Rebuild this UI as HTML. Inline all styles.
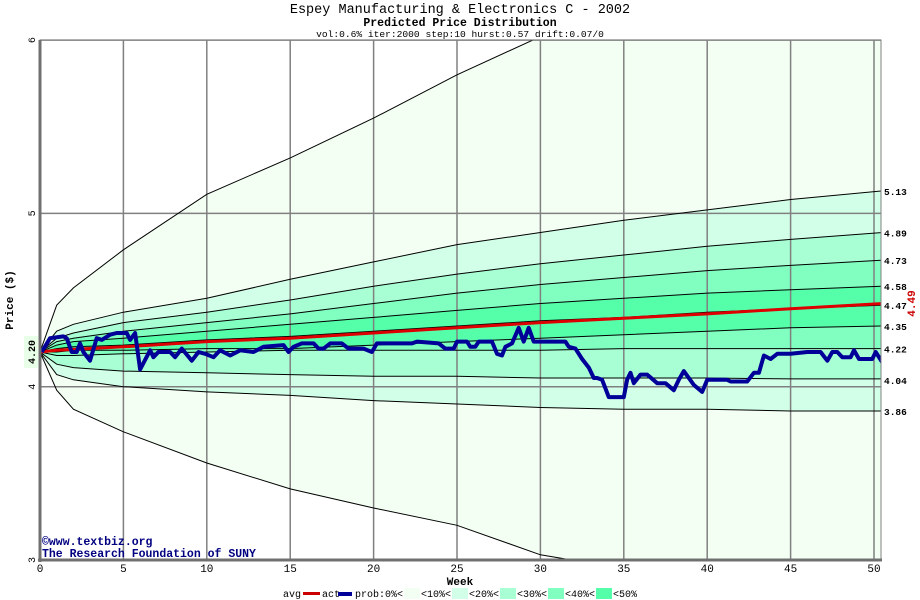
<!DOCTYPE html>
<html><head><meta charset="utf-8"><style>
html,body{margin:0;padding:0;background:#fff;}
svg{display:block;font-family:"Liberation Mono",monospace;}
</style></head><body>
<svg id="chart" width="920" height="600" viewBox="0 0 920 600">
<text x="460" y="13" text-anchor="middle" font-size="13.5">Espey Manufacturing &amp; Electronics C - 2002</text>
<text x="460" y="26" text-anchor="middle" font-size="11.5" font-weight="bold">Predicted Price Distribution</text>
<text x="460" y="37" text-anchor="middle" font-size="9.6">vol:0.6% iter:2000 step:10 hurst:0.57 drift:0.07/0</text>
<g id="bands"></g>
<g id="grid"></g>
<g id="curves"></g>
<g id="series"></g>
<g id="axes"></g>
<text x="42" y="545" font-size="11.5" font-weight="bold" fill="#000080">©www.textbiz.org</text>
<text x="42" y="557" font-size="11.5" font-weight="bold" fill="#000080">The Research Foundation of SUNY</text>
<text x="460" y="585" text-anchor="middle" font-size="11" font-weight="bold">Week</text>
<text transform="translate(13,300) rotate(-90)" text-anchor="middle" font-size="11" font-weight="bold">Price ($)</text>
<g id="legend" font-size="10">
<text x="283" y="597">avg</text>
<rect x="303" y="592" width="17" height="3" fill="#cc0000"/>
<text x="322" y="597">act</text>
<rect x="338" y="592" width="14" height="4" fill="#000099"/>
<text x="355" y="597">prob:0%&lt;</text>
<rect x="404" y="588" width="16" height="11" fill="#f3fff3"/>
<text x="421" y="597">&lt;10%&lt;</text>
<rect x="452" y="588" width="16" height="11" fill="#d2ffe8"/>
<text x="469" y="597">&lt;20%&lt;</text>
<rect x="500" y="588" width="16" height="11" fill="#a8ffd4"/>
<text x="517" y="597">&lt;30%&lt;</text>
<rect x="548" y="588" width="16" height="11" fill="#80ffc0"/>
<text x="565" y="597">&lt;40%&lt;</text>
<rect x="596" y="588" width="16" height="11" fill="#55ffaa"/>
<text x="613" y="597">&lt;50%</text>
</g>
</svg>
<script>
const weeks = [0,1,2,5,10,15,20,25,30,35,40,45,50.5];
const outerHi = [4.2,4.47,4.57,4.79,5.11,5.32,5.55,5.80,6.02,6.25,6.45,6.62,6.8];
const c513 = [4.2,4.32,4.36,4.43,4.51,4.62,4.72,4.82,4.89,4.96,5.02,5.08,5.13];
const c489 = [4.2,4.28,4.31,4.37,4.43,4.50,4.58,4.65,4.71,4.76,4.81,4.85,4.89];
const c473 = [4.2,4.26,4.28,4.32,4.37,4.42,4.48,4.54,4.59,4.63,4.67,4.70,4.73];
const c458 = [4.2,4.24,4.26,4.28,4.32,4.36,4.40,4.44,4.48,4.51,4.54,4.56,4.58];
const c447 = [4.2,4.22,4.23,4.24,4.27,4.29,4.32,4.35,4.38,4.40,4.43,4.45,4.47];
const c435 = [4.2,4.20,4.21,4.21,4.22,4.22,4.24,4.26,4.28,4.30,4.32,4.34,4.35];
const c422 = [4.2,4.18,4.18,4.19,4.20,4.21,4.21,4.21,4.21,4.22,4.22,4.22,4.22];
const c404 = [4.2,4.13,4.11,4.09,4.08,4.07,4.06,4.06,4.05,4.05,4.05,4.045,4.045];
const c386 = [4.2,4.07,4.04,4.00,3.97,3.95,3.92,3.90,3.88,3.87,3.87,3.86,3.86];
const outerLo = [4.2,3.98,3.87,3.74,3.56,3.41,3.30,3.20,3.03,2.95,2.88,2.82,2.76];
const avgSeries = [4.2,4.21,4.215,4.23,4.26,4.28,4.31,4.34,4.37,4.395,4.42,4.45,4.48];
const actWeeks = [0.1,0.6,1.4,1.6,1.9,2.2,2.4,2.6,3.0,3.4,3.7,4.2,4.6,5.2,5.4,5.7,6.0,6.6,6.8,7.1,7.8,8.1,8.5,9.1,9.5,9.9,10.4,10.8,11.4,12.0,12.8,13.4,14.6,14.9,15.2,15.7,16.4,16.7,17.0,17.4,18.1,18.5,19.4,19.9,20.2,22.3,22.6,23.9,24.3,24.8,25.0,25.6,25.8,26.1,26.3,27.1,27.4,27.7,27.9,28.3,28.7,29.0,29.3,29.6,31.5,31.7,32.1,32.5,32.9,33.2,33.4,33.7,34.1,35.0,35.2,35.4,35.6,36.0,36.4,37.0,37.5,38.0,38.3,38.6,39.2,39.7,40.0,41.2,41.4,42.4,42.8,43.1,43.4,43.8,44.2,45.0,46.0,46.8,47.2,47.5,47.8,48.1,48.6,48.8,49.1,49.6,49.9,50.1,50.5];
const actValues = [4.20,4.28,4.29,4.28,4.20,4.20,4.25,4.20,4.15,4.28,4.27,4.30,4.31,4.31,4.27,4.31,4.10,4.21,4.17,4.20,4.20,4.17,4.22,4.15,4.20,4.19,4.17,4.21,4.18,4.21,4.20,4.23,4.24,4.20,4.23,4.25,4.25,4.22,4.22,4.25,4.25,4.22,4.22,4.20,4.25,4.25,4.26,4.25,4.22,4.22,4.26,4.26,4.23,4.23,4.26,4.26,4.19,4.18,4.23,4.25,4.34,4.26,4.34,4.26,4.26,4.23,4.22,4.16,4.11,4.05,4.05,4.04,3.94,3.94,4.04,4.08,4.02,4.07,4.07,4.02,4.02,3.98,4.04,4.09,4.01,3.97,4.04,4.04,4.03,4.03,4.08,4.08,4.18,4.16,4.19,4.19,4.20,4.20,4.15,4.20,4.20,4.17,4.17,4.21,4.16,4.16,4.16,4.20,4.14,4.14];
const xTicks = [0,5,10,15,20,25,30,35,40,45,50];
const yTicks = [3,4,5,6];
const endLabels = ["5.13","4.89","4.73","4.58","4.47","4.35","4.22","4.04","3.86"];
const endLabelValues = [5.13,4.89,4.73,4.58,4.47,4.35,4.22,4.04,3.86];

const NS = "http://www.w3.org/2000/svg";
const X0 = 40, PXW = 16.68, XR = 881;
const Y4 = 386.7, PXU = 173.3, YT = 40, YB = 560;
function xs(w){ return X0 + w*PXW; }
function ys(v){ return Y4 - (v-4)*PXU; }
function mk(tag, attrs, parent){
  const e = document.createElementNS(NS, tag);
  for (const k in attrs) e.setAttribute(k, attrs[k]);
  parent.appendChild(e); return e;
}
function pts(arr){ return arr.map((v,i)=>xs(weeks[i]).toFixed(1)+","+ys(v).toFixed(1)); }

const svg = document.getElementById('chart');
// clip
const defs = mk('defs', {}, svg);
const cp = mk('clipPath', {id:'plotclip'}, defs);
mk('rect', {x:X0, y:YT, width:XR-X0, height:YB-YT}, cp);

const bands = document.getElementById('bands');
bands.setAttribute('clip-path','url(#plotclip)');
const bandDefs = [[outerHi,outerLo,'#f3fff3','band-0-10'],[c513,c386,'#d2ffe8','band-10-20'],[c489,c404,'#a8ffd4','band-20-30'],[c473,c422,'#80ffc0','band-30-40'],[c458,c435,'#55ffaa','band-40-50']];
bandDefs.forEach(b=>{
  const p = pts(b[0]).concat(pts(b[1]).reverse());
  const poly = mk('polygon', {points:p.join(' '), fill:b[2]}, bands);
  
  
});

const grid = document.getElementById('grid');
xTicks.forEach(t=>{
  if (t===0) return;
  const l = mk('line', {x1:xs(t), x2:xs(t), y1:YT, y2:YB, stroke:'#808080', 'stroke-width':1.5}, grid);
  
  
});
yTicks.forEach(t=>{
  const l = mk('line', {x1:X0, x2:XR, y1:ys(t), y2:ys(t), stroke:'#808080', 'stroke-width':1.5}, grid);
  
  
});

const curves = document.getElementById('curves');
curves.setAttribute('clip-path','url(#plotclip)');
[outerHi,c513,c489,c473,c458,c447,c435,c422,c404,c386,outerLo].forEach(c=>{
  const pl = mk('polyline', {points:pts(c).join(' '), fill:'none', stroke:'#000', 'stroke-width':1}, curves);
  
  
});

const series = document.getElementById('series');
series.setAttribute('clip-path','url(#plotclip)');
const avg = mk('polyline', {points:pts(avgSeries).join(' '), fill:'none', stroke:'#dd0000', 'stroke-width':3}, series);


const actPts = actWeeks.map((w,i)=>xs(w).toFixed(1)+","+ys(actValues[i]).toFixed(1));
const act = mk('polyline', {points:actPts.join(' '), fill:'none', stroke:'#000099', 'stroke-width':4, 'stroke-linejoin':'round'}, series);



const axes = document.getElementById('axes');
const frame = mk('rect', {x:X0, y:YT, width:XR-X0, height:YB-YT, fill:'none', stroke:'#808080', 'stroke-width':1}, axes);


const la = mk('line', {x1:X0, x2:X0, y1:YT, y2:YB+2, stroke:'#707070', 'stroke-width':3}, axes);


const ba = mk('line', {x1:X0-2, x2:XR+1, y1:YB, y2:YB, stroke:'#707070', 'stroke-width':3}, axes);


xTicks.forEach(t=>{
  const tx = mk('text', {x:xs(t), y:572, 'text-anchor':'middle', 'font-size':11}, axes);
  tx.textContent = t;
  
  
});
yTicks.forEach(t=>{
  const tx = mk('text', {transform:'translate(35,'+ys(t)+') rotate(-90)', 'text-anchor':'middle', 'font-size':10}, axes);
  tx.textContent = t;
  
  
});
const sb = mk('rect', {x:24, y:ys(4.2)-16, width:14, height:32, fill:'#e8ffe8'}, axes);


const st = mk('text', {transform:'translate(35,'+ys(4.2)+') rotate(-90)', 'text-anchor':'middle', 'font-size':10, 'font-weight':'bold'}, axes);
st.textContent = '4.20';


endLabels.forEach((s,i)=>{
  const tx = mk('text', {x:884, y:ys(endLabelValues[i])+4, 'font-size':9.5, 'font-weight':'bold'}, axes);
  tx.textContent = s;
  
  
});
const el = mk('text', {transform:'translate(915,'+ys(avgSeries[avgSeries.length-1])+') rotate(-90)', 'text-anchor':'middle', 'font-size':11, 'font-weight':'bold', fill:'#cc0000'}, axes);
el.textContent = '4.49';


</script>
</body></html>
